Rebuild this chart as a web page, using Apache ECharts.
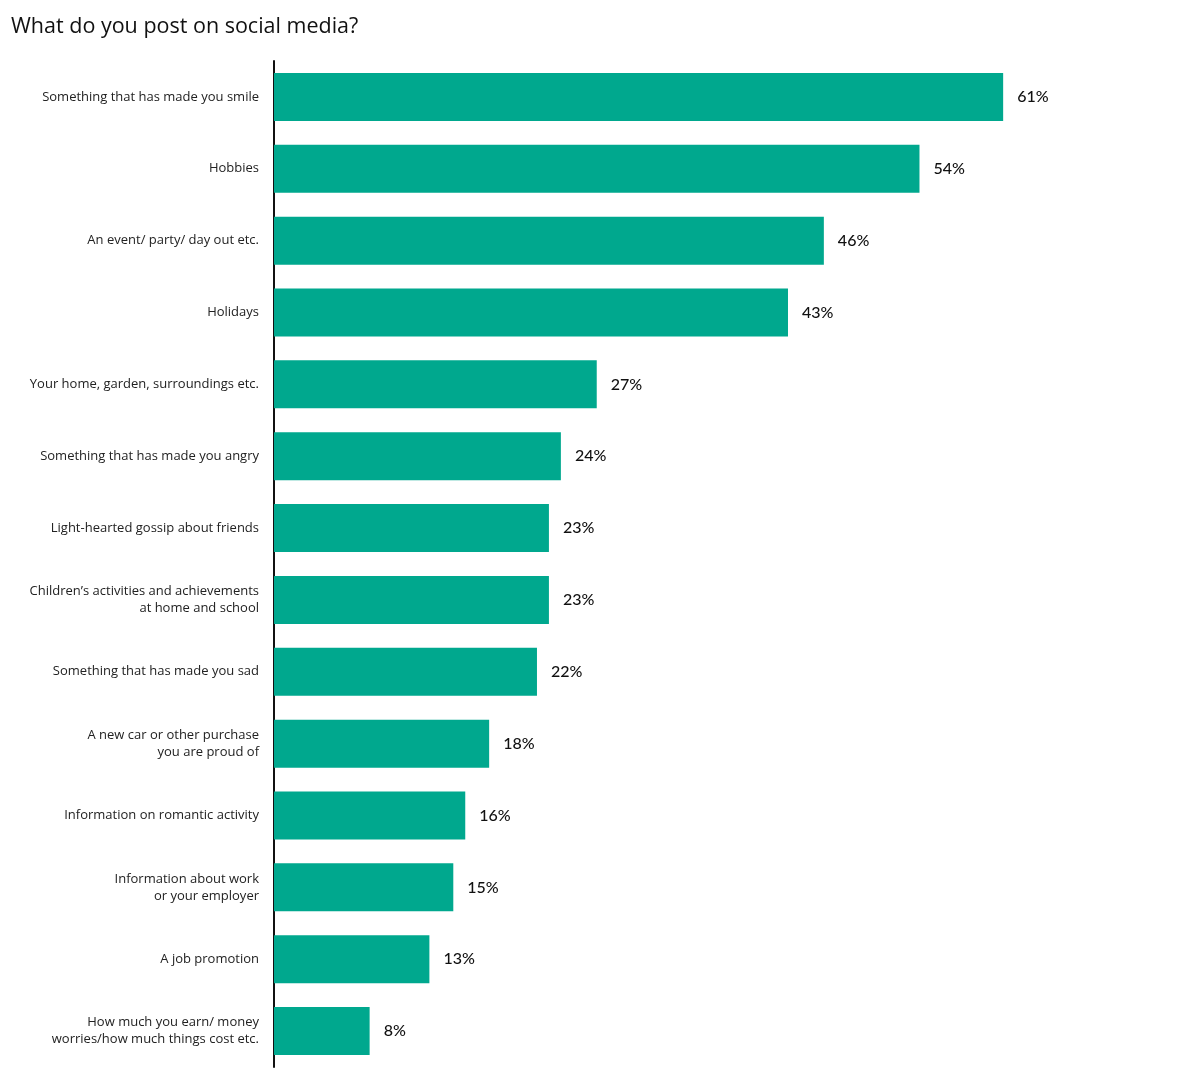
<!DOCTYPE html>
<html>
<head>
    <meta charset="utf-8">
    <title>What do you post on social media?</title>
    <script src="https://cdn.jsdelivr.net/npm/echarts@6/dist/echarts.min.js"></script>
    <style>
        html, body { margin: 0; padding: 0; background: #fff; }
        #main { width: 1200px; height: 1090px; }
    </style>
</head>
<body>
    <div id="main"></div>
    <script type="text/javascript">
        // categories, top to bottom
        var categories = [
            'Something that has made you smile',
            'Hobbies',
            'An event/ party/ day out etc.',
            'Holidays',
            'Your home, garden, surroundings etc.',
            'Something that has made you angry',
            'Light-hearted gossip about friends',
            'Children\u2019s activities and achievements\nat home and school',
            'Something that has made you sad',
            'A new car or other purchase\nyou are proud of',
            'Information on romantic activity',
            'Information about work\nor your employer',
            'A job promotion',
            'How much you earn/ money\nworries/how much things cost etc.'
        ];
        // percentages
        var values = [61, 54, 46, 43, 27, 24, 23, 23, 22, 18, 16, 15, 13, 8];

        var myChart = echarts.init(document.getElementById('main'));

        var option = {
            backgroundColor: '#ffffff',
            title: {
                text: 'What do you post on social media?',
                left: 6,
                top: 11,
                textStyle: {
                    fontFamily: 'Open Sans',
                    fontSize: 21.5,
                    fontWeight: 'normal',
                    color: '#111'
                }
            },
            grid: {
                left: 274,
                right: 29.5,
                top: 61,
                bottom: 23,
                containLabel: false
            },
            xAxis: {
                type: 'value',
                min: 0,
                max: 75,
                show: false
            },
            yAxis: {
                type: 'category',
                inverse: true,
                data: categories,
                axisLine: { show: true, lineStyle: { color: '#111', width: 2 } },
                axisTick: { show: false },
                splitLine: { show: false },
                axisLabel: {
                    margin: 15,
                    fontFamily: 'Open Sans',
                    fontSize: 13,
                    color: '#222',
                    lineHeight: 17,
                    align: 'right'
                }
            },
            series: [{
                type: 'bar',
                data: values,
                barWidth: 48,
                itemStyle: { color: '#00A88E' },
                label: {
                    show: true,
                    position: 'right',
                    distance: 14,
                    formatter: '{c}%',
                    fontFamily: 'Lato',
                    fontSize: 16,
                    fontWeight: 500,
                    color: '#111'
                },
                silent: true
            }]
        };

        myChart.setOption(option);
    </script>
</body>
</html>
